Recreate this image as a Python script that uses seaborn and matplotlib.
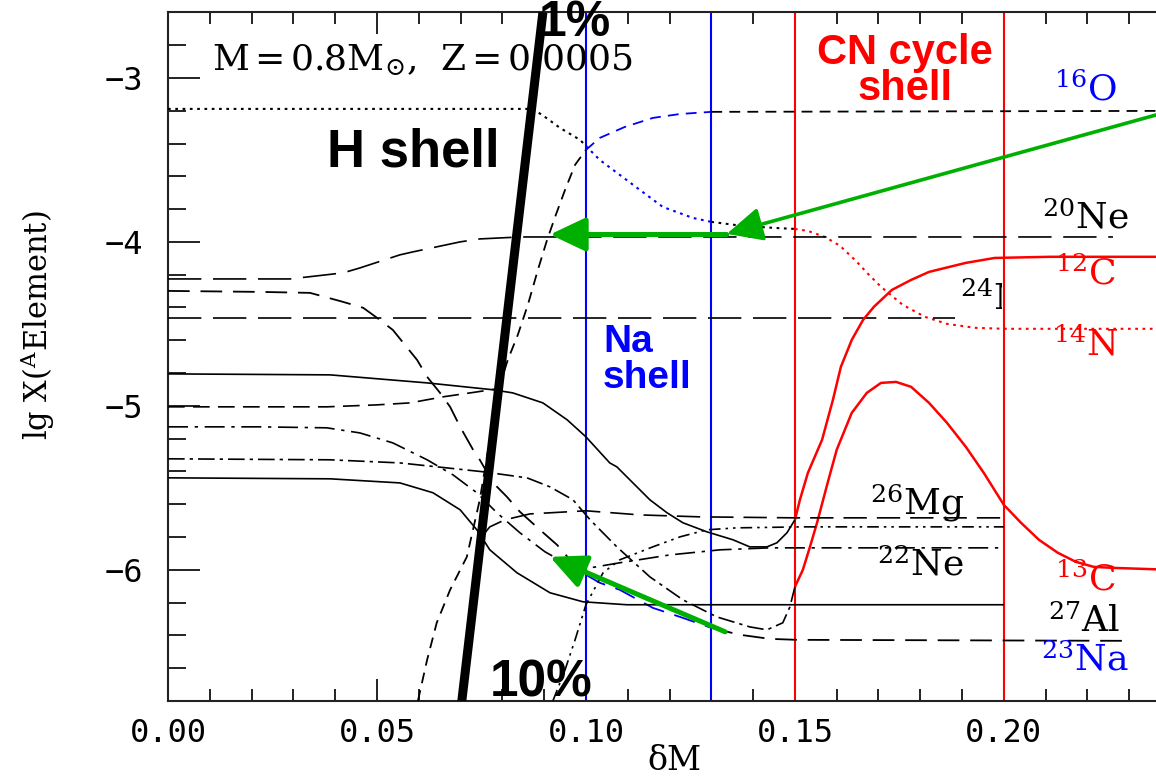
import numpy as np
import matplotlib
matplotlib.use("Agg")
import matplotlib.pyplot as plt
import seaborn as sns
from matplotlib.transforms import Bbox, TransformedBbox

# ---------------------------------------------------------------------------
# Abundance profiles across the H-burning shell (dM vs lg X)
# ---------------------------------------------------------------------------
n14_dm = [0.0, 0.0873, 0.0902, 0.0938, 0.0986, 0.100, 0.1033, 0.1065, 0.1129, 0.1184,
          0.1256, 0.130, 0.1373, 0.1452, 0.150, 0.1531, 0.1572, 0.1608, 0.1646, 0.1675,
          0.1706, 0.1758, 0.1811, 0.1864, 0.1931, 0.200, 0.240]
n14_lg = [-3.189, -3.189, -3.238, -3.305, -3.378, -3.415, -3.500, -3.561, -3.683, -3.787,
          -3.854, -3.878, -3.902, -3.915, -3.921, -3.933, -3.970, -4.024, -4.116, -4.195,
          -4.274, -4.384, -4.457, -4.500, -4.524, -4.530, -4.530]

o16_dm = [0.0598, 0.0620, 0.0643, 0.0675, 0.0715, 0.0746, 0.0770, 0.0794, 0.0813, 0.0837,
          0.0861, 0.0885, 0.0907, 0.0928, 0.0950, 0.0974, 0.100, 0.1033, 0.1093, 0.1160,
          0.1225, 0.130, 0.240]
o16_lg = [-6.799, -6.549, -6.323, -6.122, -5.921, -5.573, -5.207, -4.872, -4.720, -4.567,
          -4.384, -4.171, -3.988, -3.835, -3.683, -3.530, -3.439, -3.366, -3.299, -3.244,
          -3.220, -3.207, -3.201]

ne20_dm = [0.0, 0.0292, 0.0419, 0.0459, 0.0555, 0.0586, 0.0699, 0.0746, 0.0842, 0.2261]
ne20_lg = [-4.226, -4.226, -4.189, -4.159, -4.079, -4.061, -4.000, -3.982, -3.970, -3.970]

mg24_dm = [0.0, 0.1883]
mg24_lg = [-4.463, -4.463]

na23_dm = [0.0, 0.0220, 0.0340, 0.0419, 0.0467, 0.0500, 0.0538, 0.0596, 0.0620, 0.0651,
           0.0675, 0.0699, 0.0730, 0.0746, 0.0778, 0.0811, 0.0842, 0.0890, 0.0931, 0.0962,
           0.100, 0.1033, 0.1081, 0.1160, 0.1225, 0.130, 0.1368, 0.1440, 0.1505, 0.2287]
na23_lg = [-4.299, -4.305, -4.311, -4.366, -4.402, -4.463, -4.537, -4.720, -4.823, -4.921,
           -5.006, -5.128, -5.268, -5.329, -5.470, -5.555, -5.646, -5.756, -5.848, -5.939,
           -6.030, -6.079, -6.122, -6.232, -6.287, -6.354, -6.396, -6.421, -6.427, -6.433]

c12_dm = [0.0, 0.0388, 0.0620, 0.0778, 0.0825, 0.0897, 0.0955, 0.100, 0.1057, 0.1074,
          0.1153, 0.1194, 0.1232, 0.1289, 0.1352, 0.1392, 0.1433, 0.1457, 0.1481, 0.150,
          0.1512, 0.1531, 0.1565, 0.1591, 0.1610, 0.1636, 0.1663, 0.1689, 0.1732, 0.1778,
          0.1821, 0.1909, 0.1978, 0.2110, 0.240]
c12_lg = [-4.805, -4.811, -4.860, -4.902, -4.921, -4.982, -5.085, -5.189, -5.348, -5.372,
          -5.573, -5.652, -5.713, -5.768, -5.817, -5.860, -5.860, -5.835, -5.774, -5.695,
          -5.573, -5.409, -5.207, -4.963, -4.762, -4.598, -4.476, -4.396, -4.293, -4.232,
          -4.183, -4.128, -4.098, -4.091, -4.091]

c13_dm = [0.0, 0.0388, 0.0555, 0.0754, 0.0859, 0.0914, 0.0969, 0.1010, 0.1074, 0.1153,
          0.1232, 0.1313, 0.1392, 0.1433, 0.1471, 0.1488, 0.150, 0.1519, 0.1536, 0.1553,
          0.1577, 0.1600, 0.1636, 0.1672, 0.1706, 0.1742, 0.1778, 0.1821, 0.1864, 0.1909,
          0.1952, 0.200, 0.2041, 0.2084, 0.2129, 0.2172, 0.2215, 0.2261, 0.240]
c13_lg = [-5.323, -5.329, -5.348, -5.402, -5.439, -5.494, -5.573, -5.695, -5.860, -6.043,
          -6.183, -6.287, -6.348, -6.366, -6.323, -6.226, -6.104, -6.000, -5.860, -5.713,
          -5.482, -5.268, -5.043, -4.921, -4.860, -4.854, -4.884, -4.982, -5.104, -5.250,
          -5.409, -5.604, -5.713, -5.817, -5.896, -5.951, -5.982, -5.988, -6.000]

al27_dm = [0.0, 0.0388, 0.0555, 0.0634, 0.0699, 0.0739, 0.0770, 0.0835, 0.0914, 0.0993,
           0.1098, 0.200]
al27_lg = [-5.439, -5.445, -5.470, -5.530, -5.634, -5.756, -5.878, -6.018, -6.140, -6.195,
           -6.213, -6.213]

mg25_dm = [0.0, 0.0380, 0.0500, 0.0579, 0.0658, 0.0739, 0.0787]
mg25_lg = [-5.006, -5.006, -4.994, -4.982, -4.945, -4.915, -4.896]

ne22_dm = [0.0, 0.0220, 0.0380, 0.0459, 0.0538, 0.0620, 0.0682, 0.0739, 0.0787, 0.0842,
           0.0902, 0.0962, 0.1010, 0.1081, 0.1201, 0.1321, 0.1440, 0.200]
ne22_lg = [-5.128, -5.128, -5.134, -5.165, -5.226, -5.329, -5.421, -5.530, -5.652, -5.774,
           -5.890, -5.976, -5.988, -5.957, -5.909, -5.878, -5.866, -5.866]

mg26_dm = [0.0754, 0.0770, 0.0806, 0.0866, 0.100, 0.1129, 0.1273, 0.150, 0.200]
mg26_lg = [-5.787, -5.738, -5.695, -5.659, -5.640, -5.665, -5.677, -5.683, -5.683]

si28_dm = [0.0921, 0.0950, 0.0974, 0.100, 0.1041, 0.1081, 0.1160, 0.1225, 0.1289, 0.1361,
           0.1519, 0.200]
si28_lg = [-6.799, -6.610, -6.427, -6.213, -6.018, -5.939, -5.860, -5.799, -5.756, -5.744,
           -5.738, -5.738]

# H-shell position (thick line) and shell boundaries
hshell_dm = [0.0703, 0.0897]
hshell_lg = [-6.80, -2.60]
na_shell = [0.10, 0.13]
cn_shell = [0.15, 0.20]

xticks = [0.0, 0.05, 0.10, 0.15, 0.20]
xtick_labels = ["0.00", "0.05", "0.10", "0.15", "0.20"]
yticks = [-6, -5, -4, -3]
ytick_labels = ["\u22126", "\u22125", "\u22124", "\u22123"]

BLUE = "#0000ff"
RED = "#ff0000"
GREEN = "#00b000"
BLACK = "#000000"

sns.set_theme(style="ticks")
plt.rcParams.update({
    "font.family": ["DejaVu Serif"],
    "mathtext.fontset": "dejavuserif",
    "text.color": "black",
    "axes.labelcolor": "black",
    "axes.linewidth": 1.5,
    "axes.edgecolor": "#222222",
    "lines.solid_capstyle": "butt",
    "lines.dash_capstyle": "butt",
})

fig = plt.figure(figsize=(11.56, 7.80), dpi=100)
ax = fig.add_axes([168 / 1156, 79 / 780, 988 / 1156, 689 / 780])


def draw_profile(dm, lg, segments, ls, lw=1.2):
    dm = np.asarray(dm, dtype=float)
    lg = np.asarray(lg, dtype=float)
    for lo, hi, color in segments:
        m = (dm >= lo - 1e-9) & (dm <= hi + 1e-9)
        if m.sum() < 2:
            continue
        sns.lineplot(x=dm[m], y=lg[m], ax=ax, color=color, lw=lw, linestyle=ls,
                     sort=False, estimator=None, zorder=3)


ALL_BLACK = [(0.0, 1.0, BLACK)]
NA_BLUE = [(0.0, 0.10, BLACK), (0.10, 0.13, BLUE), (0.13, 1.0, BLACK)]
NA_BLUE_CN_RED = [(0.0, 0.10, BLACK), (0.10, 0.13, BLUE), (0.13, 0.15, BLACK), (0.15, 1.0, RED)]

# shell boundaries
for x in na_shell:
    ax.axvline(x, color=BLUE, lw=1.5, zorder=2)
for x in cn_shell:
    ax.axvline(x, color=RED, lw=1.5, zorder=2)

draw_profile(n14_dm, n14_lg, NA_BLUE_CN_RED, (0, (1.3, 2.2)), lw=1.5)
draw_profile(o16_dm, o16_lg, NA_BLUE, (0, (6, 4)), lw=1.3)
draw_profile(ne20_dm, ne20_lg, ALL_BLACK, (0, (20, 7)))
draw_profile(mg24_dm, mg24_lg, ALL_BLACK, (0, (20, 7)))
draw_profile(na23_dm, na23_lg, NA_BLUE, (0, (12, 6)), lw=1.3)
draw_profile(c12_dm, c12_lg, [(0.0, 0.15, BLACK)], "-")
draw_profile(c12_dm, c12_lg, [(0.15, 1.0, RED)], "-", lw=1.8)
draw_profile(c13_dm, c13_lg, [(0.0, 0.15, BLACK)], (0, (10, 3, 2, 3)))
draw_profile(c13_dm, c13_lg, [(0.15, 1.0, RED)], "-", lw=1.8)
draw_profile(al27_dm, al27_lg, ALL_BLACK, "-")
draw_profile(mg25_dm, mg25_lg, ALL_BLACK, (0, (10, 5)))
draw_profile(ne22_dm, ne22_lg, ALL_BLACK, (0, (12, 4, 2, 4)))
draw_profile(mg26_dm, mg26_lg, ALL_BLACK, (0, (14, 6)))
draw_profile(si28_dm, si28_lg, ALL_BLACK, (0, (7, 3, 1.5, 3, 1.5, 3)))

# H burning shell
sns.lineplot(x=hshell_dm, y=hshell_lg, ax=ax, color=BLACK, lw=6.5,
             sort=False, estimator=None, zorder=5)

# arrows
arrow_kw = dict(arrowstyle="-|>,head_length=0.95,head_width=0.45", color=GREEN,
                shrinkA=0, shrinkB=0, mutation_scale=23)
ax.annotate("", xy=(0.1337, -3.951), xytext=(0.2364, -3.226),
            arrowprops=dict(lw=2.6, **arrow_kw), zorder=6, annotation_clip=False)
ax.annotate("", xy=(0.0914, -3.955), xytext=(0.1337, -3.955),
            arrowprops=dict(lw=3.6, **arrow_kw), zorder=6)
ax.annotate("", xy=(0.0914, -5.921), xytext=(0.1333, -6.378),
            arrowprops=dict(lw=3.6, **arrow_kw), zorder=6)

# axes
ax.set_xlim(0.0, 0.2364)
ax.set_ylim(-6.8, -2.598)
ax.set_xticks(xticks)
ax.set_xticklabels(xtick_labels, fontfamily="DejaVu Sans Mono", fontsize=23)
ax.set_yticks(yticks)
ax.set_yticklabels(ytick_labels, fontfamily="DejaVu Sans Mono", fontsize=23)
ax.set_xticks(np.arange(0.01, 0.236, 0.01), minor=True)
ax.set_yticks(np.arange(-6.8, -2.59, 0.2), minor=True)
ax.tick_params(axis="x", which="major", direction="in", length=16, width=1.4,
               top=True, bottom=True, pad=12, colors="#222222", labelcolor="black")
ax.tick_params(axis="x", which="minor", direction="in", length=8.5, width=1.4,
               top=True, bottom=True, colors="#222222")
ax.tick_params(axis="y", which="major", direction="in", length=23, width=1.4,
               left=True, right=False, pad=18, colors="#222222", labelcolor="black")
ax.tick_params(axis="y", which="minor", direction="in", length=13, width=1.4,
               left=True, right=False, colors="#222222")
ax.spines["right"].set_visible(False)
ax.grid(False)

ax.set_xlabel("\u03b4M", fontsize=24, color="black")
ax.xaxis.set_label_coords(0.513, -0.064)
ax.set_ylabel(r"lg X($^{\mathrm{A}}$Element)", fontsize=22, color="black")
ax.yaxis.set_label_coords(-0.112, 0.546)

# annotations
ax.text(0.0105, -2.89, r"M$\,$=$\,$0.8M$_{\odot}$,  Z$\,$=$\,$0.0005", fontsize=26,
        ha="left", va="center", color=BLACK, zorder=4)
sans_bold = dict(fontfamily="Liberation Sans", fontweight="bold")
ax.text(0.0586, -3.457, "H shell", fontsize=38, ha="center", va="center", color=BLACK, **sans_bold)
ax.text(0.0974, -2.668, "1%", fontsize=36, ha="center", va="center", color=BLACK,
        clip_on=False, zorder=7, **sans_bold)
ax.text(0.0892, -6.689, "10%", fontsize=37, ha="center", va="center", color=BLACK,
        zorder=7, **sans_bold)
ax.text(0.1763, -2.850, "CN cycle", fontsize=30, ha="center", va="center", color=RED, **sans_bold)
ax.text(0.1763, -3.070, "shell", fontsize=30, ha="center", va="center", color=RED, **sans_bold)
ax.text(0.1041, -4.612, "Na", fontsize=28, ha="left", va="center", color=BLUE, **sans_bold)
ax.text(0.1041, -4.828, "shell", fontsize=28, ha="left", va="center", color=BLUE, **sans_bold)

iso_labels = [
    (0.2196, -3.073, r"$^{16}$O", BLUE),
    (0.2194, -3.854, r"$^{20}$Ne", BLACK),
    (0.2196, -4.195, r"$^{12}$C", RED),
    (0.2196, -4.628, r"$^{14}$N", RED),
    (0.1792, -5.591, r"$^{26}$Mg", BLACK),
    (0.1799, -5.970, r"$^{22}$Ne", BLACK),
    (0.2196, -6.061, r"$^{13}$C", RED),
    (0.2191, -6.317, r"$^{27}$Al", BLACK),
    (0.2194, -6.549, r"$^{23}$Na", BLUE),
]
for x, y, s, c in iso_labels:
    ax.text(x, y, s, fontsize=26, ha="center", va="center", color=c, zorder=4)

mg_lab = ax.text(0.1895, -4.341, r"$^{24}$Mg", fontsize=26, ha="left", va="center",
                 color=BLACK, zorder=4)
mg_lab.set_clip_box(TransformedBbox(Bbox([[0.0, -6.8], [0.1995, -2.598]]), ax.transData))
mg_lab.set_clip_on(True)

fig.savefig("out.png", dpi=100)
